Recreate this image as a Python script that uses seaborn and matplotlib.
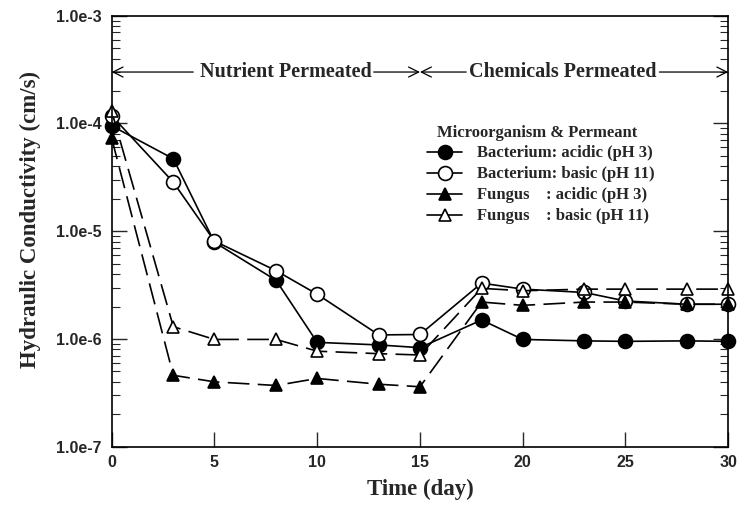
import numpy as np
import pandas as pd
import matplotlib
matplotlib.use("Agg")
import matplotlib.pyplot as plt
from matplotlib.ticker import LogLocator, FixedLocator, NullFormatter
import seaborn as sns

# ===== Data =====
days = [0, 3, 5, 8, 10, 13, 15, 18, 20, 23, 25, 28, 30]
bact_acidic = [9.5e-5, 4.7e-5, 7.9e-6, 3.5e-6, 9.3e-7, 8.8e-7, 8.3e-7, 1.5e-6, 9.9e-7, 9.6e-7, 9.5e-7, 9.6e-7, 9.5e-7]
bact_basic = [1.18e-4, 2.85e-5, 8.1e-6, 4.3e-6, 2.6e-6, 1.09e-6, 1.1e-6, 3.3e-6, 2.9e-6, 2.7e-6, 2.25e-6, 2.1e-6, 2.1e-6]
fung_acidic = [7.3e-5, 4.6e-7, 4.0e-7, 3.7e-7, 4.3e-7, 3.8e-7, 3.6e-7, 2.2e-6, 2.05e-6, 2.2e-6, 2.2e-6, 2.1e-6, 2.1e-6]
fung_basic = [1.3e-4, 1.3e-6, 9.9e-7, 9.9e-7, 7.7e-7, 7.3e-7, 7.1e-7, 2.95e-6, 2.8e-6, 2.9e-6, 2.9e-6, 2.9e-6, 2.9e-6]

labels = ["Bacterium: acidic (pH 3)", "Bacterium: basic (pH 11)",
          "Fungus    : acidic (pH 3)", "Fungus    : basic (pH 11)"]
series = [bact_acidic, bact_basic, fung_acidic, fung_basic]
ytick_labels = ["1.0e-7", "1.0e-6", "1.0e-5", "1.0e-4", "1.0e-3"]

sns.set_theme(style="ticks")
plt.rcParams['font.family'] = ['Liberation Serif', 'DejaVu Serif']

fig = plt.figure(figsize=(7.38, 5.11), dpi=100)
ax = fig.add_axes([0.1513, 0.1258, 0.8355, 0.8435])

styles = [
    dict(marker='o', mfc='black', ms=10, dashes=None),
    dict(marker='o', mfc='white', ms=10, dashes=None),
    dict(marker='^', mfc='black', ms=8.5, dashes=(13, 5)),
    dict(marker='^', mfc='white', ms=8.5, dashes=(13, 5)),
]

for lab, vals, st in zip(labels, series, styles):
    df = pd.DataFrame({"day": days, "k": vals})
    kw = dict(marker=st['marker'], markerfacecolor=st['mfc'], markeredgecolor='black',
              markersize=st['ms'], markeredgewidth=1.2, color='black', linewidth=1.2)
    if st['dashes'] is not None:
        kw['dashes'] = st['dashes']
    sns.lineplot(data=df, x="day", y="k", ax=ax, label=lab, **kw)

for ln in ax.get_lines():
    ln.set_clip_on(False)

ax.set_yscale('log')
ax.set_xlim(0, 30)
ax.set_ylim(1e-7, 1e-3)

# ticks
ax.xaxis.set_major_locator(FixedLocator([0, 5, 10, 15, 20, 25, 30]))
ax.yaxis.set_major_locator(FixedLocator([1e-7, 1e-6, 1e-5, 1e-4, 1e-3]))
ax.yaxis.set_minor_locator(LogLocator(base=10, subs=np.arange(2, 10)))
ax.yaxis.set_minor_formatter(NullFormatter())
ax.set_yticklabels(ytick_labels)
ax.tick_params(axis='x', which='major', direction='in', length=11, width=1, top=False, pad=6)
ax.tick_params(axis='y', which='major', direction='in', length=11, width=1, right=True, left=True, pad=7)
ax.tick_params(axis='y', which='minor', direction='in', length=6, width=0.8, right=True, left=True)
for t in ax.get_xticklabels() + ax.get_yticklabels():
    t.set_fontfamily('Liberation Sans')
    t.set_fontweight('bold')
    t.set_fontsize(11.5)

for sp in ax.spines.values():
    sp.set_linewidth(1.2)
    sp.set_color('black')

ax.set_xlabel("Time (day)", fontsize=16.5, fontweight='bold', labelpad=6)
ax.set_ylabel("Hydraulic Conductivity (cm/s)", fontsize=16.5, fontweight='bold', labelpad=11)
ax.yaxis.label.set_y(0.526)

# ===== phase arrows =====
ya = 3.0e-4
ax.text(8.48, ya, "Nutrient Permeated", ha='center', va='center', fontsize=14.5, fontweight='bold')
ax.text(21.94, ya, "Chemicals Permeated", ha='center', va='center', fontsize=14.5, fontweight='bold')
arr = dict(arrowstyle='->', color='black', lw=0.9, mutation_scale=18, shrinkA=0, shrinkB=0)
ax.annotate('', xy=(0, ya), xytext=(3.97, ya), arrowprops=arr)
ax.annotate('', xy=(15, ya), xytext=(12.75, ya), arrowprops=arr)
ax.annotate('', xy=(15, ya), xytext=(17.25, ya), arrowprops=arr)
ax.annotate('', xy=(30, ya), xytext=(26.65, ya), arrowprops=arr)

# ===== legend =====
ax.text(0.5276, 0.728, "Microorganism & Permeant", transform=ax.transAxes,
        ha='left', va='center', fontsize=12, fontweight='bold')
leg = ax.legend(loc='upper left', bbox_to_anchor=(0.493, 0.726), frameon=False,
                fontsize=12, handlelength=2.1, handletextpad=0.9,
                labelspacing=0.3, borderpad=0.2)
for t in leg.get_texts():
    t.set_fontweight('bold')
for h in leg.legend_handles:
    h.set_linestyle('-')

fig.savefig("out.png", dpi=100)
